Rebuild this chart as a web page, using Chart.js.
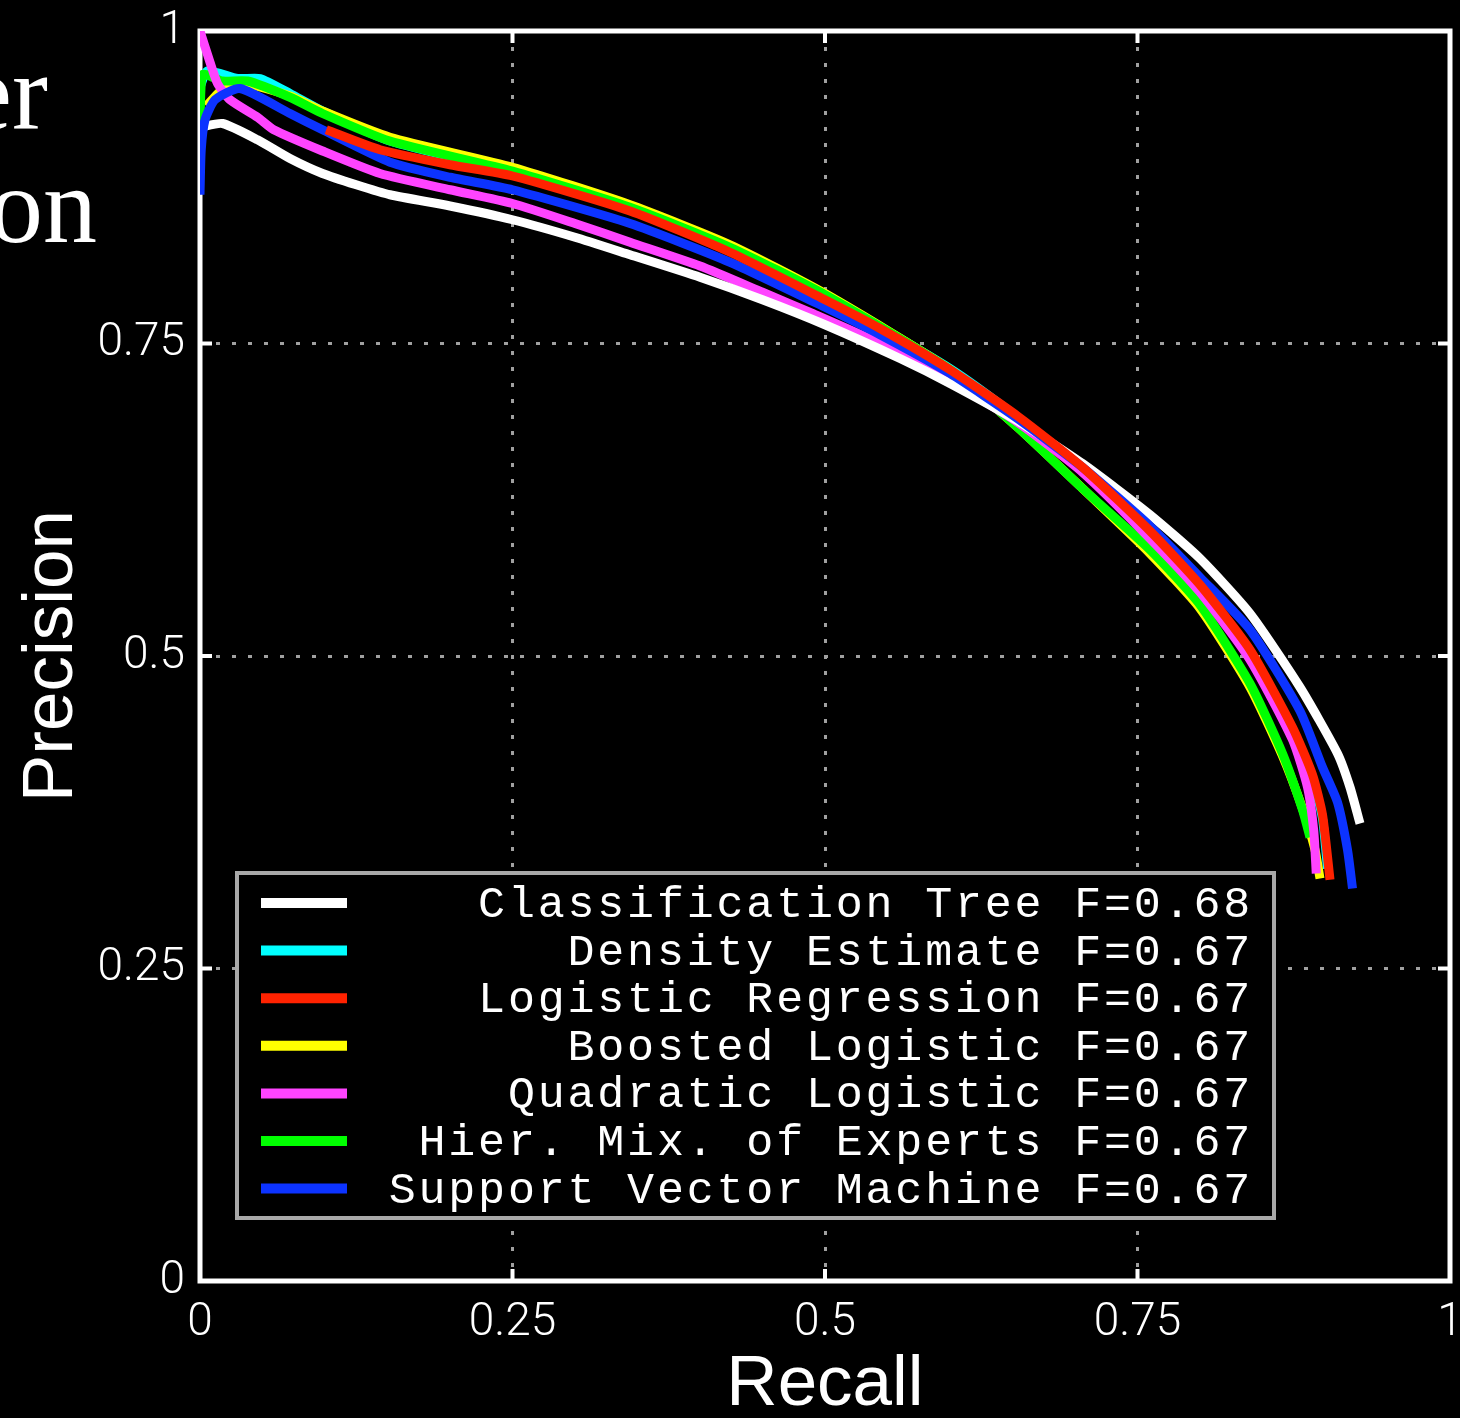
<!DOCTYPE html>
<html>
<head>
<meta charset="utf-8">
<script src="https://cdn.jsdelivr.net/npm/chart.js@4.4.0/dist/chart.umd.min.js"></script>
<style>
  html, body { margin: 0; padding: 0; background: #000; }
  #wrap { width: 1460px; height: 1418px; position: relative; }
</style>
</head>
<body>
<div id="wrap"><canvas id="prChart"></canvas></div>
<script>
// axis ticks (same on both axes)
const tickValues = [0, 0.25, 0.5, 0.75, 1];
const tickLabels = ['0', '0.25', '0.5', '0.75', '1'];

const seriesNames = [
    'Classification Tree F=0.68',
    'Density Estimate F=0.67',
    'Logistic Regression F=0.67',
    'Boosted Logistic F=0.67',
    'Quadratic Logistic F=0.67',
    'Hier. Mix. of Experts F=0.67',
    'Support Vector Machine F=0.67'
];
const seriesColors = ['#ffffff', '#00ffff', '#ff2200', '#ffff00', '#ff44ff', '#00ff00', '#0c33ff'];
// lower = drawn on top
const drawOrder = [3, 7, 1, 6, 4, 5, 2];

// recall / precision
const treeRecall = [0, 0.018, 0.046, 0.072, 0.098, 0.125, 0.152, 0.2, 0.25, 0.3, 0.344, 0.4, 0.45, 0.5, 0.56, 0.6, 0.654, 0.706, 0.76, 0.8, 0.84, 0.88, 0.91, 0.92, 0.928];
const treePrecision = [0.923, 0.926, 0.913, 0.898, 0.886, 0.877, 0.869, 0.860, 0.849, 0.835, 0.821, 0.803, 0.785, 0.765, 0.738, 0.718, 0.688, 0.654, 0.613, 0.578, 0.534, 0.475, 0.422, 0.395, 0.366];

const densityRecall = [0, 0.006, 0.03, 0.048, 0.072, 0.098, 0.152, 0.25, 0.344, 0.424, 0.5, 0.6, 0.654, 0.706, 0.76, 0.8, 0.84, 0.874, 0.89, 0.898, 0.902];
const densityPrecision = [0.955, 0.968, 0.962, 0.962, 0.95, 0.936, 0.912, 0.887, 0.858, 0.826, 0.788, 0.73, 0.691, 0.649, 0.596, 0.553, 0.501, 0.44, 0.402, 0.37, 0.33];

const logisticRecall = [0.101, 0.144, 0.2, 0.25, 0.344, 0.424, 0.5, 0.544, 0.6, 0.654, 0.706, 0.76, 0.8, 0.84, 0.874, 0.89, 0.898, 0.904];
const logisticPrecision = [0.921, 0.905, 0.893, 0.884, 0.856, 0.823, 0.785, 0.762, 0.729, 0.692, 0.651, 0.600, 0.557, 0.505, 0.443, 0.405, 0.373, 0.321];

const boostedRecall = [0.005, 0.02, 0.04, 0.072, 0.098, 0.152, 0.25, 0.344, 0.424, 0.5, 0.6, 0.654, 0.706, 0.76, 0.8, 0.84, 0.866, 0.882, 0.892, 0.896];
const boostedPrecision = [0.94, 0.955, 0.957, 0.948, 0.936, 0.915, 0.891, 0.861, 0.829, 0.79, 0.729, 0.683, 0.634, 0.582, 0.538, 0.475, 0.42, 0.378, 0.345, 0.322];

const quadRecall = [0, 0.008, 0.014, 0.024, 0.046, 0.059, 0.098, 0.144, 0.2, 0.25, 0.3, 0.344, 0.4, 0.45, 0.49, 0.544, 0.6, 0.654, 0.706, 0.76, 0.8, 0.84, 0.874, 0.886, 0.891, 0.893];
const quadPrecision = [1.0, 0.975, 0.958, 0.945, 0.931, 0.921, 0.904, 0.886, 0.873, 0.862, 0.846, 0.831, 0.812, 0.791, 0.774, 0.75, 0.72, 0.687, 0.647, 0.594, 0.551, 0.497, 0.433, 0.395, 0.36, 0.326];

const mixRecall = [0, 0.002, 0.018, 0.038, 0.072, 0.098, 0.152, 0.25, 0.344, 0.424, 0.5, 0.6, 0.654, 0.706, 0.76, 0.8, 0.84, 0.866, 0.882, 0.888];
const mixPrecision = [0.921, 0.965, 0.96, 0.96, 0.947, 0.934, 0.912, 0.888, 0.859, 0.827, 0.789, 0.729, 0.683, 0.634, 0.585, 0.541, 0.478, 0.422, 0.377, 0.355];

const svmRecall = [0, 0.001, 0.004, 0.012, 0.032, 0.072, 0.098, 0.152, 0.2, 0.25, 0.344, 0.424, 0.5, 0.544, 0.6, 0.654, 0.706, 0.76, 0.8, 0.84, 0.88, 0.898, 0.91, 0.918, 0.922];
const svmPrecision = [0.869, 0.905, 0.929, 0.945, 0.954, 0.934, 0.921, 0.895, 0.883, 0.873, 0.846, 0.815, 0.779, 0.757, 0.726, 0.69, 0.651, 0.604, 0.563, 0.521, 0.456, 0.411, 0.383, 0.345, 0.314];

const curves = [
    [treeRecall, treePrecision],
    [densityRecall, densityPrecision],
    [logisticRecall, logisticPrecision],
    [boostedRecall, boostedPrecision],
    [quadRecall, quadPrecision],
    [mixRecall, mixPrecision],
    [svmRecall, svmPrecision]
];

function toPoints(rec, prec) {
    return rec.map(function(r, i) { return { x: r, y: prec[i] }; });
}

const datasets = curves.map(function(c, i) {
    return {
        label: seriesNames[i],
        data: toPoints(c[0], c[1]),
        borderColor: seriesColors[i],
        backgroundColor: seriesColors[i],
        borderWidth: 9,
        borderCapStyle: 'butt',
        borderJoinStyle: 'round',
        pointRadius: 0,
        tension: 0.2,
        fill: false,
        order: drawOrder[i]
    };
});

// box round the plot plus small inward ticks
const frameBox = {
    id: 'frameBox',
    beforeDatasetsDraw: function(chart) {
        const ctx = chart.ctx;
        const a = chart.chartArea;
        const xs = chart.scales.x, ys = chart.scales.y;
        ctx.save();
        ctx.strokeStyle = '#ffffff';
        ctx.lineWidth = 5;
        ctx.strokeRect(a.left, a.top, a.right - a.left, a.bottom - a.top);
        ctx.lineWidth = 4;
        ctx.beginPath();
        tickValues.forEach(function(v) {
            const px = xs.getPixelForValue(v);
            const py = ys.getPixelForValue(v);
            ctx.moveTo(px, a.bottom); ctx.lineTo(px, a.bottom - 12);
            ctx.moveTo(px, a.top); ctx.lineTo(px, a.top + 12);
            ctx.moveTo(a.left, py); ctx.lineTo(a.left + 12, py);
            ctx.moveTo(a.right, py); ctx.lineTo(a.right - 12, py);
        });
        ctx.stroke();
        ctx.restore();
    }
};

// legend box inside the plot, text right aligned
const boxLegend = {
    id: 'boxLegend',
    afterDraw: function(chart) {
        const ctx = chart.ctx;
        const a = chart.chartArea;
        const bx = a.left + 37, by = a.bottom - 408, bw = 1037, bh = 345;
        ctx.save();
        ctx.fillStyle = '#000000';
        ctx.fillRect(bx, by, bw, bh);
        ctx.strokeStyle = '#a8a8a8';
        ctx.lineWidth = 4;
        ctx.strokeRect(bx, by, bw, bh);
        ctx.font = '45px "Liberation Mono", "Courier New", monospace';
        ctx.textAlign = 'right';
        ctx.textBaseline = 'alphabetic';
        if ('letterSpacing' in ctx) ctx.letterSpacing = '2.8px';
        chart.data.datasets.forEach(function(ds, i) {
            const cy = by + 30 + i * 47.6;
            ctx.strokeStyle = ds.borderColor;
            ctx.lineWidth = 10;
            ctx.beginPath();
            ctx.moveTo(bx + 24, cy);
            ctx.lineTo(bx + 110, cy);
            ctx.stroke();
            ctx.fillStyle = '#ffffff';
            ctx.fillText(ds.label, bx + 1016, cy + 14);
        });
        ctx.restore();

        // slide title fragments cut off at the left edge
        ctx.save();
        ctx.fillStyle = '#ffffff';
        ctx.font = '108px "Liberation Serif", "Times New Roman", serif';
        ctx.textAlign = 'right';
        ctx.textBaseline = 'alphabetic';
        ctx.fillText('er', 48, 129);
        ctx.fillText('on', 97, 242);
        ctx.restore();
    }
};

const tickFont = { family: 'Roboto, "Liberation Sans", sans-serif', size: 46, weight: 300 };
const titleFont = { family: '"Liberation Sans", Arial, sans-serif', size: 71, lineHeight: 1 };

function gridColor(c) {
    if (c.tick && (c.tick.value === 0 || c.tick.value === 1)) return 'rgba(0,0,0,0)';
    return '#a0a0a0';
}

new Chart(document.getElementById('prChart'), {
    type: 'line',
    data: { datasets: datasets },
    options: {
        responsive: true,
        maintainAspectRatio: false,
        animation: false,
        layout: { padding: { top: 31, right: 10, left: 0, bottom: 0 } },
        plugins: {
            legend: { display: false },
            tooltip: { enabled: false }
        },
        scales: {
            x: {
                type: 'linear',
                min: 0,
                max: 1,
                afterBuildTicks: function(s) { s.ticks = tickValues.map(function(v) { return { value: v }; }); },
                afterFit: function(s) { s.height = 137; s.paddingLeft = 0; s.paddingRight = 0; },
                ticks: {
                    color: '#ffffff',
                    font: tickFont,
                    padding: 15,
                    maxRotation: 0,
                    autoSkip: false,
                    callback: function(v, i) { return tickLabels[i]; }
                },
                grid: { color: gridColor, lineWidth: 3, drawTicks: false },
                border: { display: false, dash: [4, 12] },
                title: { display: true, text: 'Recall', color: '#ffffff', font: titleFont, padding: { top: 0, bottom: -3 } }
            },
            y: {
                type: 'linear',
                min: 0,
                max: 1,
                afterBuildTicks: function(s) { s.ticks = tickValues.map(function(v) { return { value: v }; }); },
                afterFit: function(s) { s.width = 200; s.paddingTop = 0; s.paddingBottom = 0; },
                ticks: {
                    color: '#ffffff',
                    font: tickFont,
                    padding: 15,
                    autoSkip: false,
                    callback: function(v, i) { return tickLabels[i]; }
                },
                grid: { color: gridColor, lineWidth: 3, drawTicks: false },
                border: { display: false, dash: [4, 12] },
                title: { display: true, text: 'Precision', color: '#ffffff', font: titleFont, padding: { top: 17, bottom: 0 } }
            }
        }
    },
    plugins: [frameBox, boxLegend]
});
</script>
</body>
</html>
